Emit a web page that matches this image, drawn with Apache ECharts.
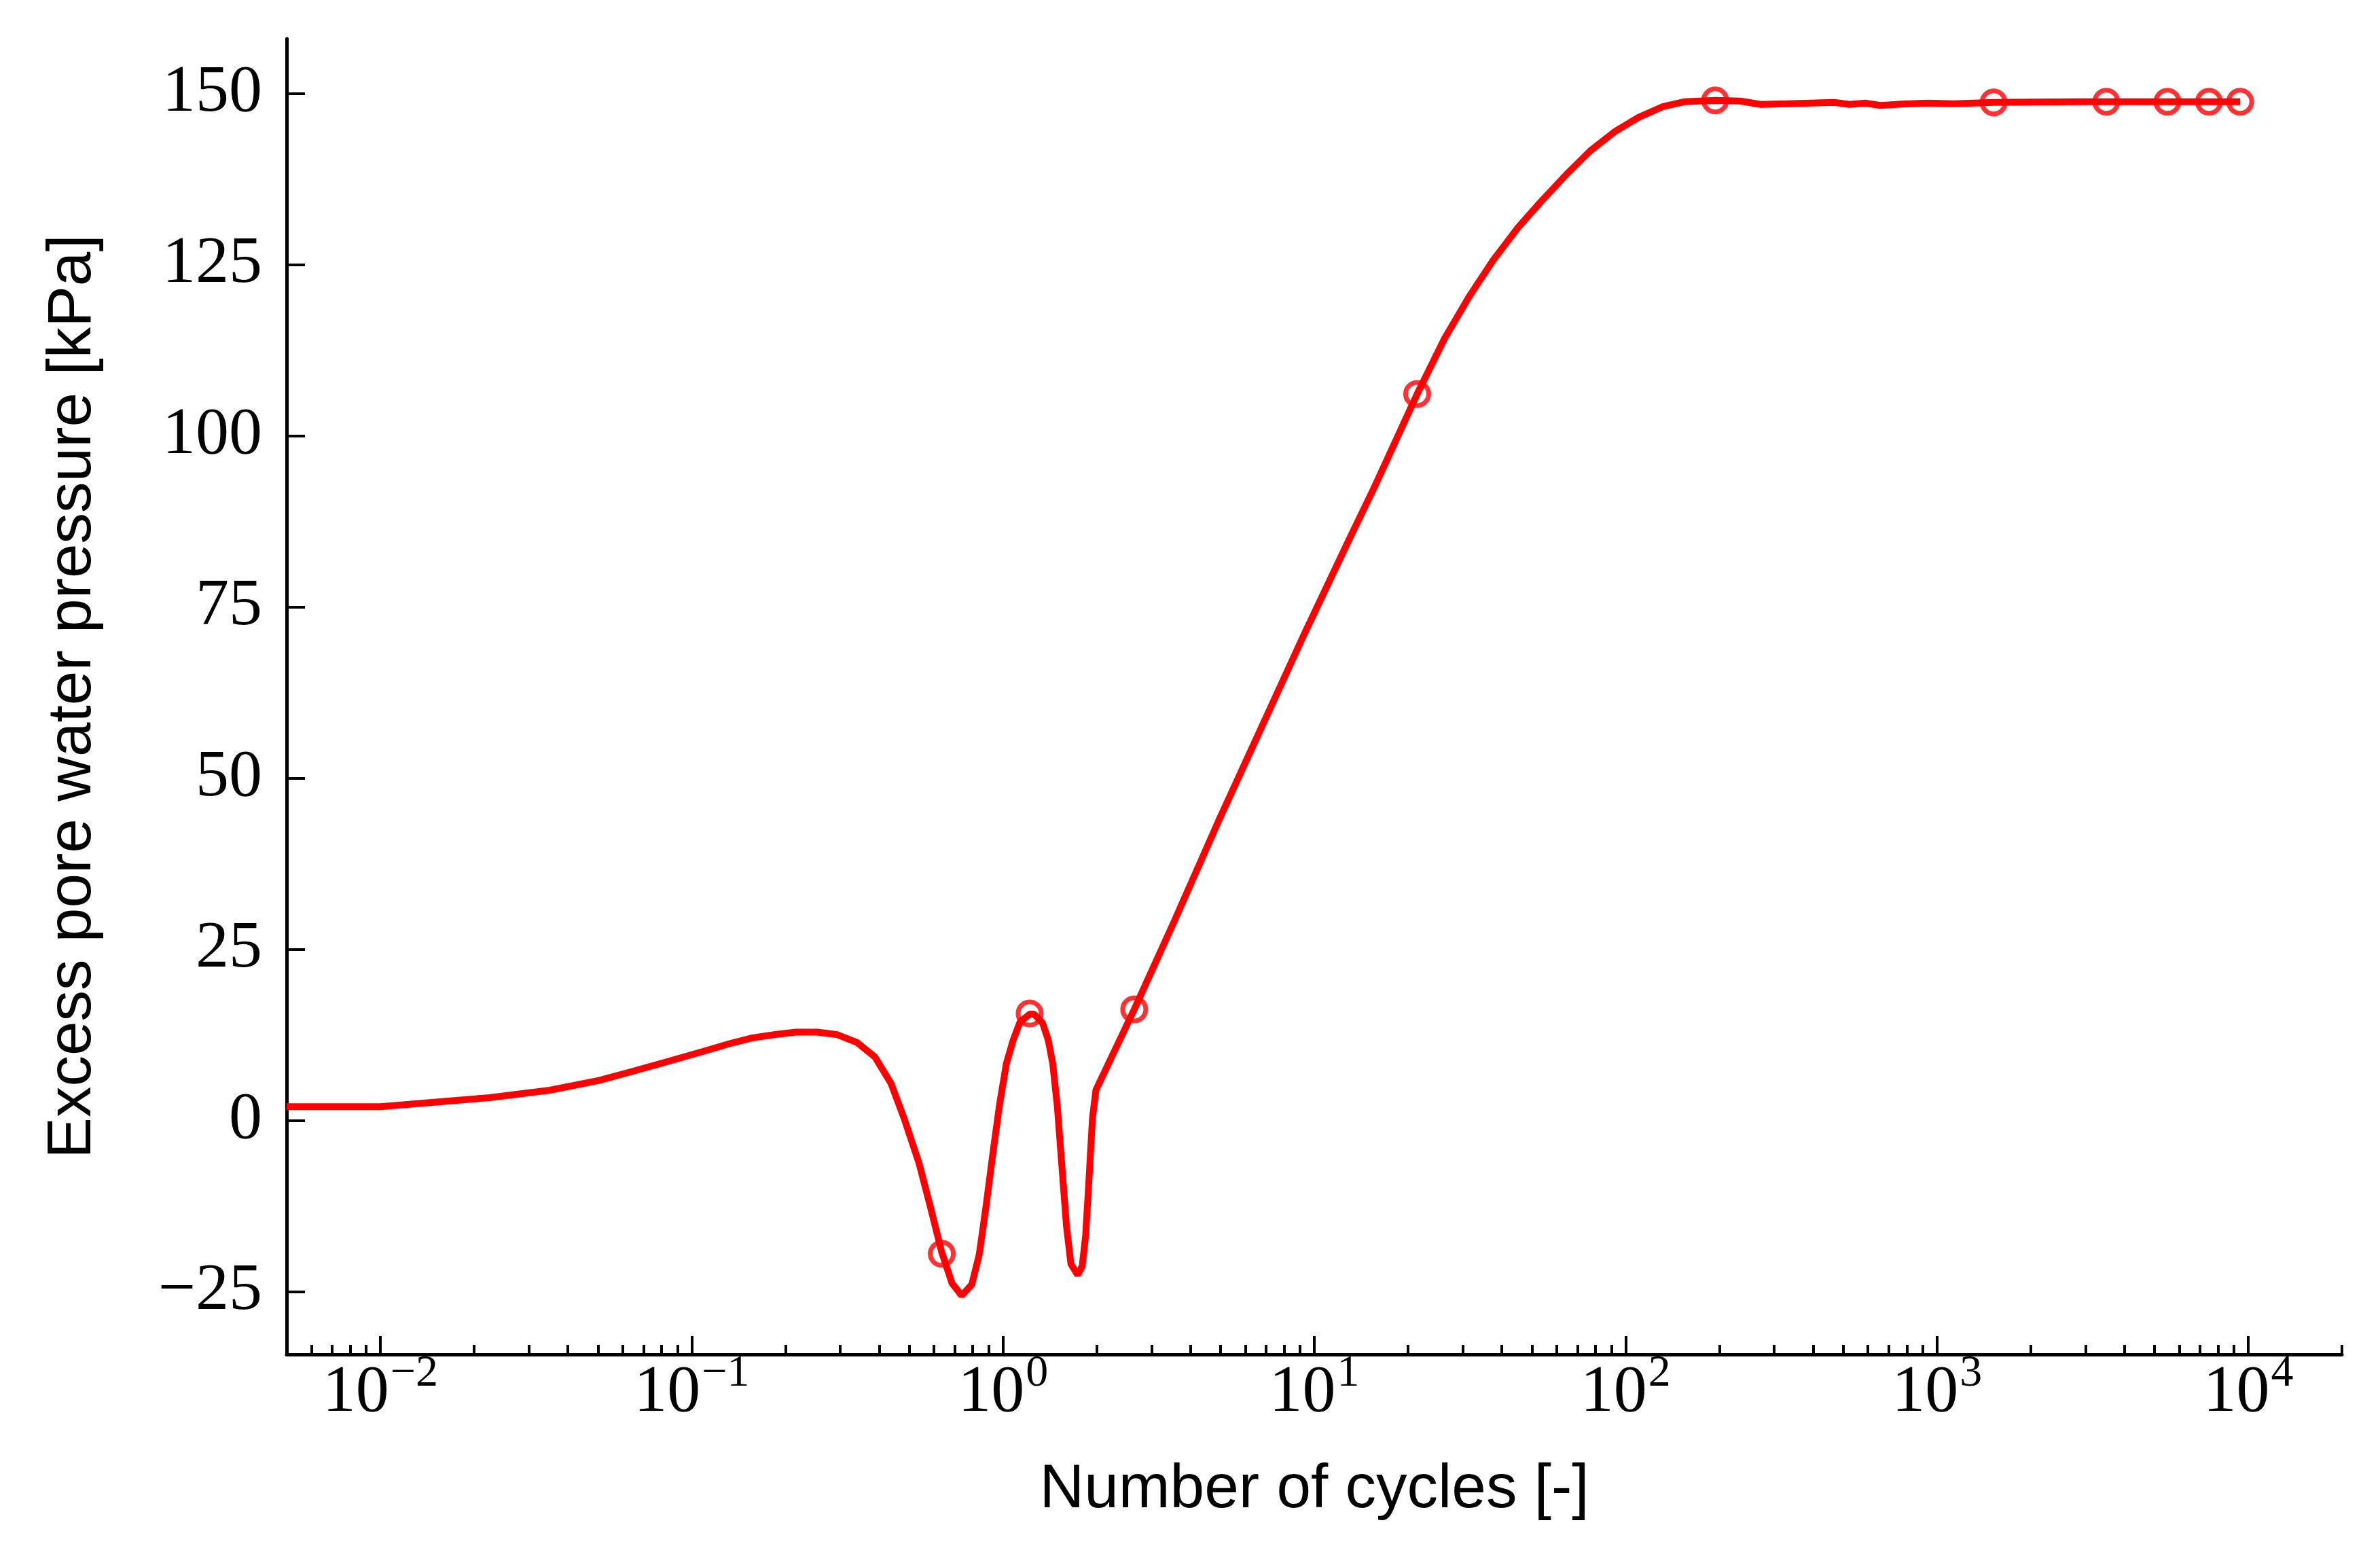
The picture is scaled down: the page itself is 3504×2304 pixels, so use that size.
<!DOCTYPE html>
<html>
<head>
<meta charset="utf-8">
<script src="https://cdn.jsdelivr.net/npm/echarts@6.0.0/dist/echarts.min.js"></script>
<style>
  html, body { margin: 0; background: #fff; }
  #chart { width: 3504px; height: 2304px; }
</style>
</head>
<body>
<div id="chart"></div>
<script>
// curve: number of cycles vs excess pore water pressure (kPa)
const cycles = [0.005, 0.01, 0.0224, 0.035, 0.0504, 0.0658, 0.0845, 0.1087, 0.1328, 0.157,
  0.1857, 0.216, 0.2533, 0.292, 0.3395, 0.388, 0.4365, 0.4826, 0.537, 0.582,
  0.636, 0.686, 0.737, 0.794, 0.839, 0.882, 0.927, 0.975, 1.025, 1.078,
  1.134, 1.218, 1.26, 1.341, 1.398, 1.445, 1.495, 1.546, 1.599, 1.653,
  1.738, 1.797, 1.843, 1.890, 1.938, 1.988, 2.64, 3.56, 4.90, 6.75,
  9.30, 12.8, 15.6, 21.4, 26.2, 31.4, 37.5, 44.9, 53.7, 64.3,
  76.9, 92.1, 110, 132, 155, 194, 233, 272, 330, 467,
  524, 588, 659, 769, 932, 1130, 1521, 2010, 2950, 3500,
  5500, 7480, 9420]
const pressure = [2.0, 2.0, 3.3, 4.4, 5.82, 7.25, 8.64, 10.06, 11.22, 12.05,
  12.54, 12.88, 12.88, 12.54, 11.39, 9.24, 5.43, 0.13, -6.2, -12.3,
  -19.3, -23.8, -25.6, -24.0, -19.6, -12.6, -5.0, 2.3, 8.25, 11.7,
  14.35, 15.5, 15.5, 14.2, 11.7, 8.25, 2.0, -6.7, -15.4, -21.0,
  -22.6, -21.3, -16.8, -8.5, 0.25, 4.4, 16.2, 29.2, 43.5, 57.3,
  71.1, 84.4, 92.5, 106.1, 114.2, 120.3, 125.6, 130.3, 134.3, 138.1,
  141.6, 144.4, 146.5, 148.1, 148.8, 149.0, 148.9, 148.4, 148.5, 148.7,
  148.4, 148.6, 148.25, 148.45, 148.6, 148.5, 148.7, 148.75, 148.8, 148.8,
  148.8, 148.8, 148.8]

// open circle markers
const markerCycles = [0.636, 1.218, 2.64, 21.4, 194, 1521, 3500, 5500, 7480, 9420]
const markerPressure = [-19.5, 15.6, 16.2, 106.1, 149.0, 148.7, 148.8, 148.8, 148.8, 148.8]

// ticks
const xMajorTicks = [0.01, 0.1, 1, 10, 100, 1000, 10000]
const yTicks = [-25, 0, 25, 50, 75, 100, 125, 150]
const xRange = [0.005, 20000]
const yRange = [-34.2, 158]

const xMinorTicks = []
for (let d = -3; d <= 4; d++) {
  for (let k = 2; k <= 9; k++) {
    const v = +(k * Math.pow(10, d)).toPrecision(3)
    if (v >= xRange[0] && v <= xRange[1]) xMinorTicks.push(v)
  }
}

const RED = '#ff0000'
const SERIF = 'Liberation Serif'
const SANS = 'Liberation Sans'

const chart = echarts.init(document.getElementById('chart'), null, { renderer: 'canvas', devicePixelRatio: 1 })

function powerLabel(value) {
  const e = Math.round(Math.log10(value))
  const exp = e < 0 ? '\u2212' + (-e) : String(e)
  return '{a|10}{b|' + exp + '}'
}

chart.setOption({
  backgroundColor: '#ffffff',
  animation: false,
  grid: { left: 422, right: 56, top: 57, bottom: 310 },
  xAxis: [
    {
      type: 'log',
      logBase: 10,
      min: xRange[0],
      max: xRange[1],
      position: 'bottom',
      name: 'Number of cycles [-]',
      nameLocation: 'middle',
      nameGap: 154,
      nameTextStyle: { fontFamily: SANS, fontSize: 91, color: '#000' },
      axisLine: { show: true, onZero: false, lineStyle: { color: '#000', width: 5 } },
      axisTick: { show: true, inside: true, length: 27, customValues: xMajorTicks, lineStyle: { color: '#000', width: 4 } },
      minorTick: { show: false },
      splitLine: { show: false },
      axisLabel: {
        show: true,
        margin: 8,
        customValues: xMajorTicks,
        formatter: powerLabel,
        color: '#000',
        rich: {
          a: { fontFamily: SERIF, fontSize: 98, lineHeight: 98, color: '#000', verticalAlign: 'bottom' },
          b: { fontFamily: SERIF, fontSize: 66, lineHeight: 66, color: '#000', verticalAlign: 'bottom', padding: [0, 0, 44, 2] }
        }
      }
    },
    {
      // minor ticks only
      type: 'log',
      logBase: 10,
      min: xRange[0],
      max: xRange[1],
      position: 'bottom',
      axisLine: { show: false, onZero: false },
      axisTick: { show: true, inside: true, length: 14, customValues: xMinorTicks, lineStyle: { color: '#000', width: 4 } },
      axisLabel: { show: false },
      splitLine: { show: false }
    }
  ],
  yAxis: {
    type: 'value',
    min: yRange[0],
    max: yRange[1],
    position: 'left',
    name: 'Excess pore water pressure [kPa]',
    nameLocation: 'middle',
    nameRotate: 90,
    nameGap: 269,
    nameTextStyle: { fontFamily: SANS, fontSize: 91, color: '#000' },
    axisLine: { show: true, onZero: false, lineStyle: { color: '#000', width: 5 } },
    axisTick: { show: true, inside: true, length: 27, customValues: yTicks, lineStyle: { color: '#000', width: 4 } },
    splitLine: { show: false },
    axisLabel: {
      show: true,
      margin: 36,
      customValues: yTicks,
      formatter: v => (v < 0 ? '\u2212' + (-v) : String(v)),
      fontFamily: SERIF,
      fontSize: 98,
      color: '#000'
    }
  },
  series: [
    {
      type: 'line',
      xAxisIndex: 0,
      data: cycles.map((c, i) => [c, pressure[i]]),
      showSymbol: false,
      smooth: false,
      lineStyle: { color: RED, width: 10 },
      z: 2
    },
    {
      type: 'scatter',
      xAxisIndex: 0,
      data: markerCycles.map((c, i) => [c, markerPressure[i]]),
      symbol: 'circle',
      symbolSize: 34,
      itemStyle: { color: 'rgba(0,0,0,0)', borderColor: RED, borderWidth: 7 },
      z: 3
    }
  ]
})
</script>
</body>
</html>
